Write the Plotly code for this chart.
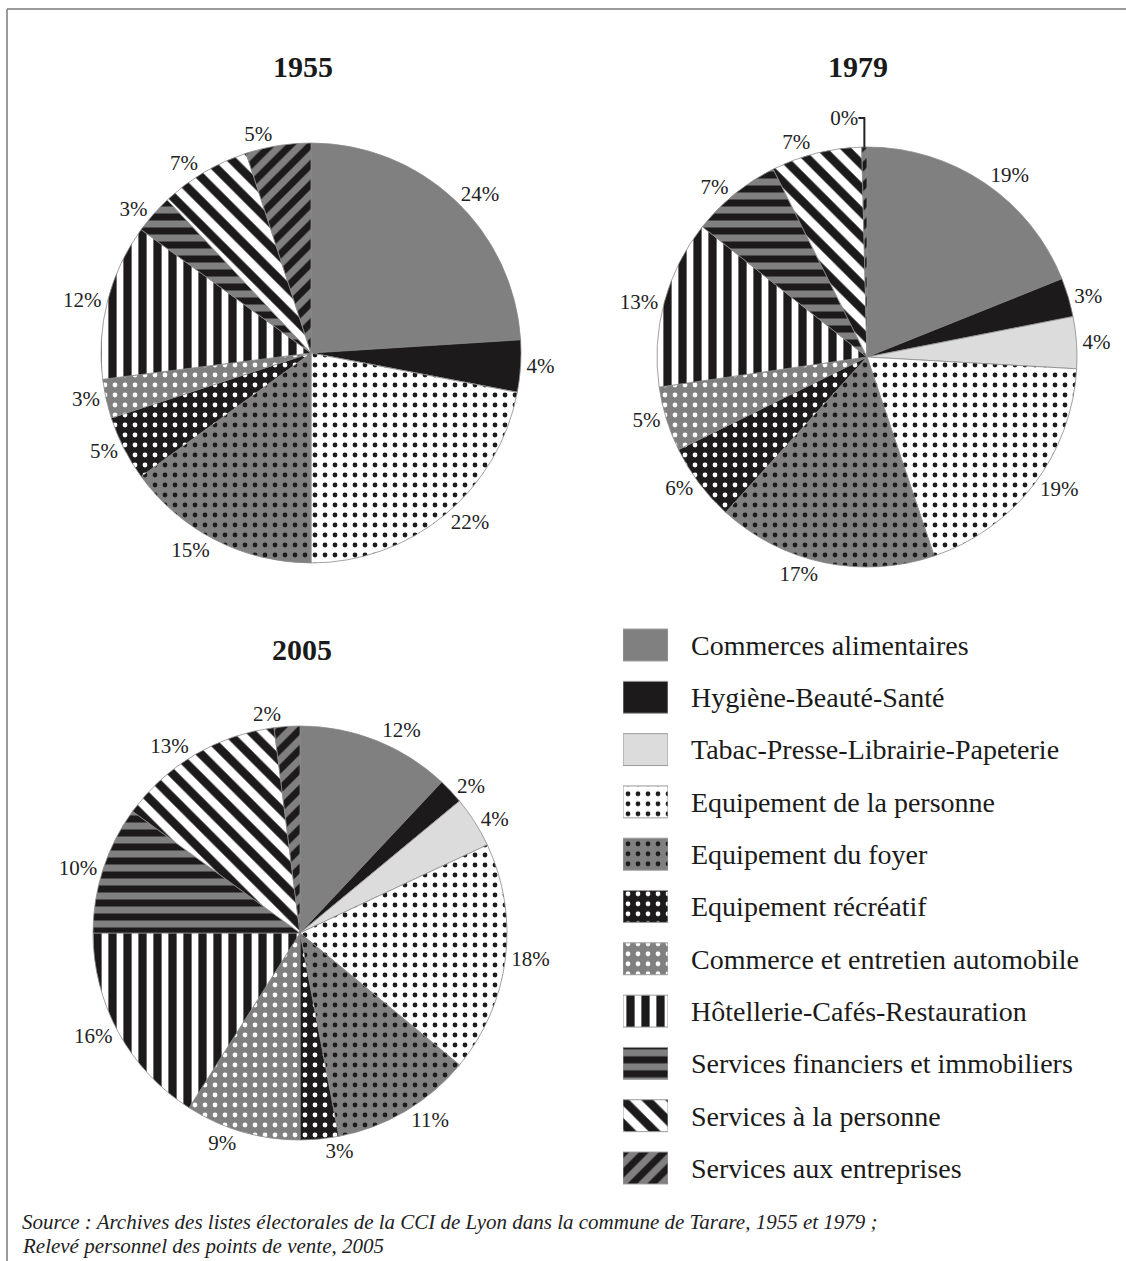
import plotly.graph_objects as go

# ---------------- data ----------------
categories = [
    "Commerces alimentaires",
    "Hygiène-Beauté-Santé",
    "Tabac-Presse-Librairie-Papeterie",
    "Equipement de la personne",
    "Equipement du foyer",
    "Equipement récréatif",
    "Commerce et entretien automobile",
    "Hôtellerie-Cafés-Restauration",
    "Services financiers et immobiliers",
    "Services à la personne",
    "Services aux entreprises",
]
years = ["1955", "1979", "2005"]
values_1955 = [24, 4, 0, 22, 15, 5, 3, 12, 3, 7, 5]
values_1979 = [19, 3, 4, 19, 17, 6, 5, 13, 7, 7, 0.4]
values_2005 = [12, 2, 4, 18, 11, 3, 9, 16, 10, 13, 2]
source_lines = [
    "Source : Archives des listes électorales de la CCI de Lyon dans la commune de Tarare, 1955 et 1979 ;",
    "Relevé personnel des points de vente, 2005",
]

# ---------------- styles ----------------
W, H = 1126, 1261
GRAY, BLACK, LIGHT, WHITE = "#808080", "#1c1a1a", "#dcdcdc", "#ffffff"
bg_colors = [GRAY, BLACK, LIGHT, WHITE, GRAY, BLACK, GRAY, WHITE, GRAY, WHITE, GRAY]
fg_colors = [BLACK, BLACK, BLACK, BLACK, BLACK, WHITE, WHITE, BLACK, BLACK, BLACK, BLACK]
pat_shapes = ["", "", "", ".", ".", ".", ".", "|", "-", "\\", "/"]
pat_sizes = [8, 8, 8, 10, 10, 10, 10, 15, 14, 17, 14]
pat_solid = [0.3, 0.3, 0.3, 0.18, 0.18, 0.18, 0.18, 0.55, 0.5, 0.5, 0.5]

SERIF = "Liberation Serif"


def px_x(x0, x1):
    return [x0 / W, x1 / W]


def px_y(y0, y1):
    # y0 top, y1 bottom in pixel coords (from top)
    return [1 - y1 / H, 1 - y0 / H]


# pie geometry (center x, center y, radius) in pixels
pie_geo = {
    "1955": (311, 353, 210),
    "1979": (867, 357, 210),
    "2005": (300, 933, 207),
}
title_pos = {"1955": (303, 66), "1979": (858, 66), "2005": (302, 650)}
series = {"1955": values_1955, "1979": values_1979, "2005": values_2005}

fig = go.Figure()

for yr in years:
    vals = series[yr]
    cx, cy, r = pie_geo[yr]
    texts = [f"{round(v)}%" if v > 0 else "" for v in vals]
    fig.add_trace(go.Pie(
        labels=categories,
        values=vals,
        text=texts,
        textinfo="text",
        textposition="outside",
        sort=False,
        direction="clockwise",
        rotation=0,
        showlegend=False,
        marker=dict(colors=bg_colors,
                    pattern=dict(shape=pat_shapes, fgcolor=fg_colors, bgcolor=bg_colors,
                                 size=pat_sizes, solidity=pat_solid, fillmode="replace"),
                    line=dict(color="#8a8a8a", width=0.8)),
        outsidetextfont=dict(family=SERIF, size=21, color="#222222"),
        domain=dict(x=px_x(cx - r, cx + r), y=px_y(cy - r, cy + r)),
        hoverinfo="label+value",
    ))

# legend built as swatch bars, one trace per category
for i, cat in enumerate(categories):
    fig.add_trace(go.Bar(
        x=[1],
        y=[cat],
        orientation="h",
        width=0.61,
        marker=dict(color=bg_colors[i],
                    pattern=dict(shape=pat_shapes[i], fgcolor=fg_colors[i],
                                 size=pat_sizes[i], solidity=pat_solid[i],
                                 fillmode="overlay", fgopacity=1),
                    line=dict(color="#9a9a9a", width=1)),
        showlegend=False,
        hoverinfo="skip",
    ))

row_top, row_gap = 645, 52.3
y_top = row_top - row_gap / 2
y_bot = y_top + row_gap * len(categories)
fig.update_layout(
    width=W, height=H,
    margin=dict(l=0, r=0, t=0, b=0),
    paper_bgcolor="white",
    plot_bgcolor="white",
    barmode="overlay",
    xaxis=dict(domain=px_x(623, 668), range=[0, 1], visible=False, fixedrange=True),
    yaxis=dict(domain=px_y(y_top, y_bot), anchor="x", side="right",
               categoryorder="array", categoryarray=categories,
               range=[len(categories) - 0.5, -0.5], showgrid=False,
               zeroline=False, showline=False, ticks="",
               ticklabelstandoff=22,
               tickfont=dict(family=SERIF, size=28, color="#1a1a1a")),
)

annotations = []
for yr in years:
    tx, ty = title_pos[yr]
    annotations.append(dict(
        x=tx / W, y=1 - ty / H, xref="paper", yref="paper",
        text=f"<b>{yr}</b>", showarrow=False, xanchor="center", yanchor="middle",
        font=dict(family=SERIF, size=30, color="#1a1a1a"),
    ))
for i, line in enumerate(source_lines):
    annotations.append(dict(
        x=20 / W, y=1 - (1222 + 24 * i) / H, xref="paper", yref="paper",
        text=f"<i>{line}</i>", showarrow=False, xanchor="left", yanchor="middle",
        font=dict(family=SERIF, size=21, color="#222222"),
    ))
fig.update_layout(annotations=annotations)

# frame lines (top and left)
fig.add_shape(type="line", xref="paper", yref="paper",
              x0=7 / W, x1=1, y0=1 - 9 / H, y1=1 - 9 / H,
              line=dict(color="#9a9a9a", width=2))
fig.add_shape(type="line", xref="paper", yref="paper",
              x0=7 / W, x1=7 / W, y0=0, y1=1 - 9 / H,
              line=dict(color="#9a9a9a", width=2))

fig.write_html("out.html", config={"displayModeBar": False},
               post_script="document.body.style.margin='0px';")
